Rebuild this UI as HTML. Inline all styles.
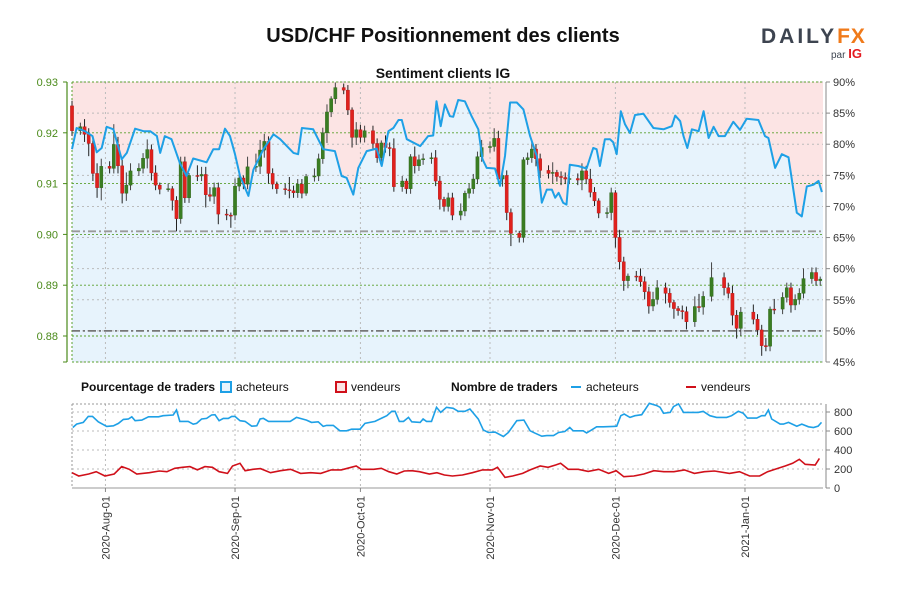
<!DOCTYPE html>
<html><head><meta charset="utf-8"><style>
body{margin:0;background:#fff;}
svg{display:block;font-family:"Liberation Sans",sans-serif;}
.nar{font-family:"Liberation Sans Narrow","Liberation Sans",sans-serif;}
</style></head><body>
<svg id="c" width="900" height="600" viewBox="0 0 900 600">
<text x="443" y="42" text-anchor="middle" font-size="20" font-weight="bold" fill="#111">USD/CHF Positionnement des clients</text>
<g>
<text x="761" y="43" font-size="21" font-weight="bold" fill="#3d4450" letter-spacing="3">DAILY<tspan fill="#f07a1a" letter-spacing="1">FX</tspan></text>
<text x="831" y="58" font-size="10" fill="#3d4450">par <tspan fill="#e3191f" font-weight="bold" font-size="13">IG</tspan></text>
</g>
<text x="443" y="78" text-anchor="middle" font-size="14" font-weight="bold" fill="#111">Sentiment clients IG</text>
<g id="legend" class="nar" font-size="12">
<text x="81" y="391" font-weight="bold" fill="#111">Pourcentage de traders</text>
<rect x="221" y="382" width="10" height="10" fill="#e6f3fc" stroke="#1ea0e6" stroke-width="2"/>
<text x="236" y="391" fill="#111">acheteurs</text>
<rect x="336" y="382" width="10" height="10" fill="#fce4e4" stroke="#d0101a" stroke-width="2"/>
<text x="351" y="391" fill="#111">vendeurs</text>
<text x="451" y="391" font-weight="bold" fill="#111">Nombre de traders</text>
<line x1="571" y1="387" x2="581" y2="387" stroke="#1ea0e6" stroke-width="2"/>
<text x="586" y="391" fill="#111">acheteurs</text>
<line x1="686" y1="387" x2="696" y2="387" stroke="#d0101a" stroke-width="2"/>
<text x="701" y="391" fill="#111">vendeurs</text>
</g>
</svg>
<script>
// ---- data ----
const candleDays=[0,2,3,4,5,6,7,9,10,11,12,13,14,16,17,18,19,20,21,23,24,25,26,27,28,30,31,32,33,34,35,37,38,39,40,41,42,44,45,46,47,48,49,51,52,53,54,55,56,58,59,60,61,62,63,65,66,67,68,69,70,72,73,74,75,76,77,79,80,81,82,83,84,86,87,88,89,90,91,93,94,95,96,97,98,100,101,102,103,104,105,107,108,109,110,111,112,114,115,116,117,118,119,121,122,123,124,125,126,128,129,130,131,132,133,135,136,137,138,139,140,142,143,144,145,146,147,149,150,151,153,156,157,158,159,160,163,164,165,166,167,168,170,171,172,173,174,175,177,178,179];
const firstOpen=0.9253;
const closes=[.9204,.9212,.9197,.9179,.912,.9092,.9134,.913,.9177,.9135,.9081,.9097,.9125,.913,.915,.9167,.9121,.9097,.9089,.909,.9067,.9031,.9143,.9072,.9116,.9115,.9118,.9078,.9075,.9092,.904,.9038,.9038,.9095,.9111,.9099,.9133,.9134,.9166,.9183,.912,.9099,.909,.9088,.9086,.9082,.9099,.9081,.9114,.9115,.9149,.92,.9241,.9267,.9289,.9284,.9245,.9191,.9206,.9191,.9204,.9179,.9151,.918,.9171,.9169,.9094,.9105,.909,.9153,.9135,.9147,.9149,.9151,.9105,.9069,.9055,.9072,.9038,.9046,.9081,.909,.9109,.9153,.9171,.9173,.9189,.9109,.9116,.9043,.9002,.8994,.9147,.9151,.9168,.9149,.9126,.912,.9122,.9114,.9112,.9109,.911,.9107,.9125,.9109,.9083,.9066,.9042,.9043,.9082,.8994,.8946,.8909,.8918,.8918,.8907,.8887,.8859,.8872,.8895,.8884,.8866,.8854,.885,.8848,.8828,.8858,.8857,.8878,.8915,.8895,.8884,.8841,.8815,.8847,.8833,.8812,.8781,.878,.8853,.8853,.8876,.8895,.8861,.8872,.8884,.8913,.8925,.8909,.8912];
const wickHi=[10,8,15,12,10,20,15,10,40,15,12,25,15,10,10,20,10,15,5,10,5,8,10,10,5,20,15,15,15,10,10,10,5,15,10,5,20,25,20,15,10,10,5,10,25,10,10,10,5,15,10,10,15,5,10,8,10,5,15,10,10,10,10,5,15,10,20,10,5,5,20,10,10,10,15,10,5,10,10,15,5,10,10,10,15,10,20,15,10,10,8,5,5,10,15,10,10,10,20,5,10,10,5,10,15,10,20,10,5,10,10,5,15,10,5,10,15,10,10,15,15,10,10,5,5,10,10,20,25,10,30,10,10,15,10,10,15,10,10,15,5,20,10,10,10,10,10,20,10,10,5];
const wickLo=[10,8,15,25,15,20,25,10,10,15,20,15,10,10,10,20,15,10,10,5,20,25,10,10,10,10,10,25,10,15,20,10,25,10,10,10,10,10,15,15,20,10,10,10,15,10,10,10,5,10,10,10,20,10,10,8,10,20,15,10,10,10,10,10,10,15,10,10,10,10,15,10,10,10,10,20,10,10,10,10,10,10,10,10,10,10,10,10,15,15,25,10,10,10,10,15,15,10,20,10,15,10,10,10,20,10,10,10,10,10,15,20,15,20,15,10,10,15,15,10,10,20,10,20,10,15,15,10,10,15,10,15,10,20,20,15,10,10,20,10,10,10,10,10,15,10,10,10,10,10,10];
const pctDays=[0,1.1,3.1,4.9,5.9,7.1,8.3,9.9,11.9,13.1,15.1,17.1,18.7,20.3,21.1,22.2,23.8,25.8,27.4,29,32.2,33.8,35.2,36.6,37.8,39,40.2,42.2,43.4,45.8,48.2,49.8,53,54.1,55,57.7,60.1,62.9,64.5,65.7,67.3,68.5,70.5,72.9,74.1,75.7,76.9,78.1,78.9,80.1,83.3,85.2,86.4,87.2,88.2,89.2,90.4,91.2,92.4,94,95.6,97.2,98.2,99.2,101.2,102.4,103.6,104.8,106.4,108,109.6,111.2,112.4,113.6,114.8,115.6,116.4,117.5,118.3,119.1,121.1,123.1,124.7,125.5,126.3,127.5,128.7,129.5,130.3,131.3,132.3,133.5,134.7,136.7,139.1,141.5,143.5,144.3,145.5,146.3,147.2,148.3,149.9,151.1,152.3,153.5,154.7,156.2,158.2,159.8,161.4,164.2,165.8,166.6,168.2,169.8,171.4,173.4,174.6,175.8,177.4,178.6,179.4];
const pctBuyers=[79.2,82.6,82.1,81.3,78.7,79.4,82.8,82.4,77.6,78.6,82.5,82.1,82.1,81.3,78.6,81.3,80.8,77.0,74.9,77.7,77.1,79.2,79.2,82.5,81.3,78.4,74.9,71.7,75.9,79.2,81.6,80.8,78.6,78.4,82.6,82.4,79.2,78.9,74.9,74.6,71.9,76.2,78.9,79.3,76.5,82.1,82.6,83.9,83.9,80.8,79.7,81.3,81.4,86.9,82.9,86.4,84.5,84.4,87.1,86.9,84.5,82.4,77.6,76.2,76.1,73.3,78.1,86.7,86.7,85.6,81.3,78.1,70.6,72.7,72.7,71.4,72.2,70.6,70.3,76.7,76.5,76.1,79.4,79.2,76.5,80.8,80.8,80.3,78.4,85.3,83.2,81.8,84.7,84.9,82.6,82.4,82.9,84.6,83.7,81.3,79.4,82.4,82.1,85.3,81.0,82.8,81.3,81.3,83.6,82.3,84.1,83.9,81.3,81.0,76.2,78.4,77.9,69.0,68.4,73.2,73.5,74.1,72.3];
const buyDays=[0.2,1.1,2.7,3.9,4.9,6.3,8.3,9.9,11.1,12.3,13.5,14.3,15.1,16.7,18.3,20.7,21.8,24.2,25.0,25.8,27.8,29.0,29.8,31.0,32.2,33.4,34.2,35.2,36.2,37.4,38.2,39.0,40.2,41.4,43.0,44.2,45.0,45.8,47.0,52.2,53.7,56.1,57.3,58.9,60.1,60.9,62.5,64.1,65.7,66.9,68.9,70.1,72.5,74.1,75.3,76.5,77.3,78.3,79.3,80.5,81.3,83.3,84.0,84.8,86.0,87.2,88.2,89.6,91.2,92.4,94.0,95.2,97.2,98.4,99.6,101.2,103.2,104.4,106.4,108.1,109.6,110.8,112.4,113.6,115.2,116.4,117.9,119.1,119.9,122.3,123.1,124.3,125.5,127.1,129.5,130.3,131.3,132.1,133.5,134.7,136.3,138.1,139.9,140.7,141.5,143.1,143.9,145.1,146.3,147.8,149.8,151.0,152.6,154.2,156.6,157.8,159.4,160.6,161.6,163.8,165.0,165.8,166.6,167.4,169.4,170.2,171.4,173.4,174.6,176.2,177.4,178.5,179.3];
const buyCounts=[637,673,690,754,754,697,648,655,680,722,726,750,708,715,750,750,761,768,821,701,701,672,680,726,733,768,772,708,733,733,754,754,708,701,651,655,726,733,701,701,743,715,690,697,648,659,659,602,602,619,619,680,701,736,761,807,807,701,701,743,697,690,726,701,701,850,796,850,839,807,807,832,725,612,584,588,542,584,708,715,602,577,545,552,552,584,595,637,602,602,580,612,644,644,648,651,761,779,743,761,772,892,867,850,786,796,857,885,796,796,796,807,761,743,743,761,807,786,736,736,761,761,821,726,673,673,690,651,673,644,637,651,690];
const sellDays=[0,1.6,4,5.8,7.9,10.1,11.9,13.7,15.5,18.5,20.9,22.7,24.6,26.4,28.2,30,31.8,33.6,35.2,37.2,38.4,40.2,41.4,43.3,45.1,47.5,49.9,52.3,54.7,57.1,59.5,62,64.4,66.8,68,69.2,72.2,74,75.8,77.7,79.5,81.3,83.1,85.5,87.3,89.1,91,93.4,95.8,98.2,100.6,101.8,103.6,105.4,107.8,109.6,112,113.9,115.7,116.9,118.7,121.1,123.5,126,128.4,130.2,132,134.4,136.8,139.2,141.6,144,146.5,148.9,151.3,153.7,157.3,159.7,162.1,164.5,166.4,168.2,170.6,172.4,174,175.4,177.8,178.8];
const sellCounts=[161,126,147,172,126,147,225,197,147,161,179,172,207,218,225,190,225,218,172,154,232,260,182,197,204,161,182,197,154,161,154,190,190,218,232,197,197,207,172,147,179,182,172,147,161,137,126,137,161,190,190,218,112,126,154,190,232,218,242,260,197,197,175,197,154,182,119,126,147,182,172,172,190,154,172,179,154,172,126,126,172,197,232,260,302,249,242,312];
const priceTicks=[0.93,0.92,0.91,0.90,0.89,0.88];
const priceLabels=["0.93","0.92","0.91","0.90","0.89","0.88"];
const pctTicks=[90,85,80,75,70,65,60,55,50,45];
const countTicks=[0,200,400,600,800];
const monthDays=[8,39,69,100,130,161];
const monthLabels=["2020-Aug-01","2020-Sep-01","2020-Oct-01","2020-Nov-01","2020-Dec-01","2021-Jan-01"];
const refLevels=[66,50];

// ---- scales ----
const L=72,R=823,T=82,B=362,LT=404,LB=488;
const xDay=d=>L+d*4.18;
const yPrice=p=>T+(0.93-p)*5080;
const yPct=v=>T+(90-v)*6.222;
const yCnt=v=>LB-v*0.095;
const NS='http://www.w3.org/2000/svg';
const svg=document.getElementById('c');
function mk(tag,at,parent){const e=document.createElementNS(NS,tag);for(const k in at)e.setAttribute(k,at[k]);(parent||svg).appendChild(e);return e;}

const pctPts=pctDays.map((d,i)=>[xDay(d),yPct(pctBuyers[i])]);
const lineStr=pctPts.map(p=>p[0].toFixed(1)+','+p[1].toFixed(1)).join(' ');
let e=mk('rect',{x:L,y:T,width:R-L,height:B-T,fill:'#e7f3fc'});


e=mk('polygon',{points:L+','+T+' '+lineStr+' '+R+','+pctPts[pctPts.length-1][1].toFixed(1)+' '+R+','+T,fill:'#fce4e4'});



pctTicks.forEach(v=>{const g=mk('line',{x1:L,x2:R,y1:yPct(v),y2:yPct(v),stroke:'#bbb','stroke-dasharray':'2,3'});

});
monthDays.forEach(d=>{let g=mk('line',{x1:xDay(d),x2:xDay(d),y1:T,y2:B,stroke:'#bbb','stroke-dasharray':'2,3'});


g=mk('line',{x1:xDay(d),x2:xDay(d),y1:LT,y2:LB,stroke:'#bbb','stroke-dasharray':'2,3'});

});
priceTicks.forEach(p=>{const g=mk('line',{x1:L,x2:R,y1:yPrice(p),y2:yPrice(p),stroke:'#5aa02c','stroke-dasharray':'2,2','stroke-width':0.9});

});
e=mk('line',{x1:L,x2:R,y1:B,y2:B,stroke:'#5aa02c','stroke-dasharray':'2,2'});


e=mk('line',{x1:L,x2:L,y1:T,y2:B,stroke:'#5aa02c','stroke-dasharray':'2,2'});


refLevels.forEach((v,i)=>{const g=mk('line',{x1:L,x2:R,y1:yPct(v),y2:yPct(v),stroke:i?'#777':'#9a9a9a','stroke-width':1.8,'stroke-dasharray':'8,3,2,3'});

});

let prev=firstOpen;
candleDays.forEach((d,i)=>{const o=prev,c=closes[i];prev=c;
const up=c>o, x=xDay(d);
const hi=Math.max(o,c)+(wickHi[i]||10)/10000, lo=Math.min(o,c)-(wickLo[i]||10)/10000;
const w=mk('line',{x1:x,x2:x,y1:yPrice(hi),y2:yPrice(lo),stroke:up?'#444':'#222','stroke-width':1});


const yt=yPrice(Math.max(o,c)),yb=yPrice(Math.min(o,c));
const r=mk('rect',{x:x-1.6,y:yt,width:3.2,height:Math.max(1,yb-yt),fill:up?'#3a7d22':'#e0211d',stroke:up?'#2d6218':'#b01818','stroke-width':0.4});

});

e=mk('polyline',{points:lineStr,fill:'none',stroke:'#1ea0e6','stroke-width':2,'stroke-linejoin':'round'});



e=mk('line',{x1:67,x2:67,y1:T,y2:B,stroke:'#4a8a1a','stroke-width':1.2});


priceTicks.forEach((p,i)=>{const t=mk('line',{x1:63,x2:67,y1:yPrice(p),y2:yPrice(p),stroke:'#4a8a1a'});


const l=mk('text',{x:58,y:yPrice(p)+4,'text-anchor':'end','font-size':11,fill:'#4a8a1a'});
l.textContent=priceLabels[i];

});
e=mk('line',{x1:63,x2:67,y1:B,y2:B,stroke:'#4a8a1a'});



e=mk('line',{x1:826,x2:826,y1:T,y2:B,stroke:'#888'});


pctTicks.forEach(v=>{const t=mk('line',{x1:826,x2:830,y1:yPct(v),y2:yPct(v),stroke:'#888'});


const l=mk('text',{x:833,y:yPct(v)+4,'font-size':11,fill:'#333'});
l.textContent=v+'%';

});

e=mk('line',{x1:L,x2:R,y1:LT,y2:LT,stroke:'#999','stroke-dasharray':'2,2'});


e=mk('line',{x1:L,x2:L,y1:LT,y2:LB,stroke:'#999','stroke-dasharray':'2,2'});


e=mk('line',{x1:L,x2:R,y1:LB,y2:LB,stroke:'#999'});


e=mk('line',{x1:826,x2:826,y1:LT,y2:LB,stroke:'#888'});


countTicks.forEach(v=>{if(v>0){const g=mk('line',{x1:L,x2:R,y1:yCnt(v),y2:yCnt(v),stroke:'#bbb','stroke-dasharray':'2,3'});

}
const t=mk('line',{x1:826,x2:830,y1:yCnt(v),y2:yCnt(v),stroke:'#888'});


const l=mk('text',{x:834,y:yCnt(v)+4,'font-size':11,fill:'#333'});
l.textContent=String(v);

});
e=mk('polyline',{points:buyDays.map((d,i)=>xDay(d).toFixed(1)+','+yCnt(buyCounts[i]).toFixed(1)).join(' '),fill:'none',stroke:'#1ea0e6','stroke-width':1.6});


e=mk('polyline',{points:sellDays.map((d,i)=>xDay(d).toFixed(1)+','+yCnt(sellCounts[i]).toFixed(1)).join(' '),fill:'none',stroke:'#d0101a','stroke-width':1.6});



monthDays.forEach((d,i)=>{const x=xDay(d);
const t=mk('line',{x1:x,x2:x,y1:LB,y2:LB+4,stroke:'#888'});


const l=mk('text',{x:0,y:0,'font-size':11,fill:'#333','text-anchor':'end',transform:'translate('+(x+4)+','+(LB+8)+') rotate(-90)'});
l.textContent=monthLabels[i];

});
svg.appendChild(document.getElementById('legend'));
</script>
</body></html>
